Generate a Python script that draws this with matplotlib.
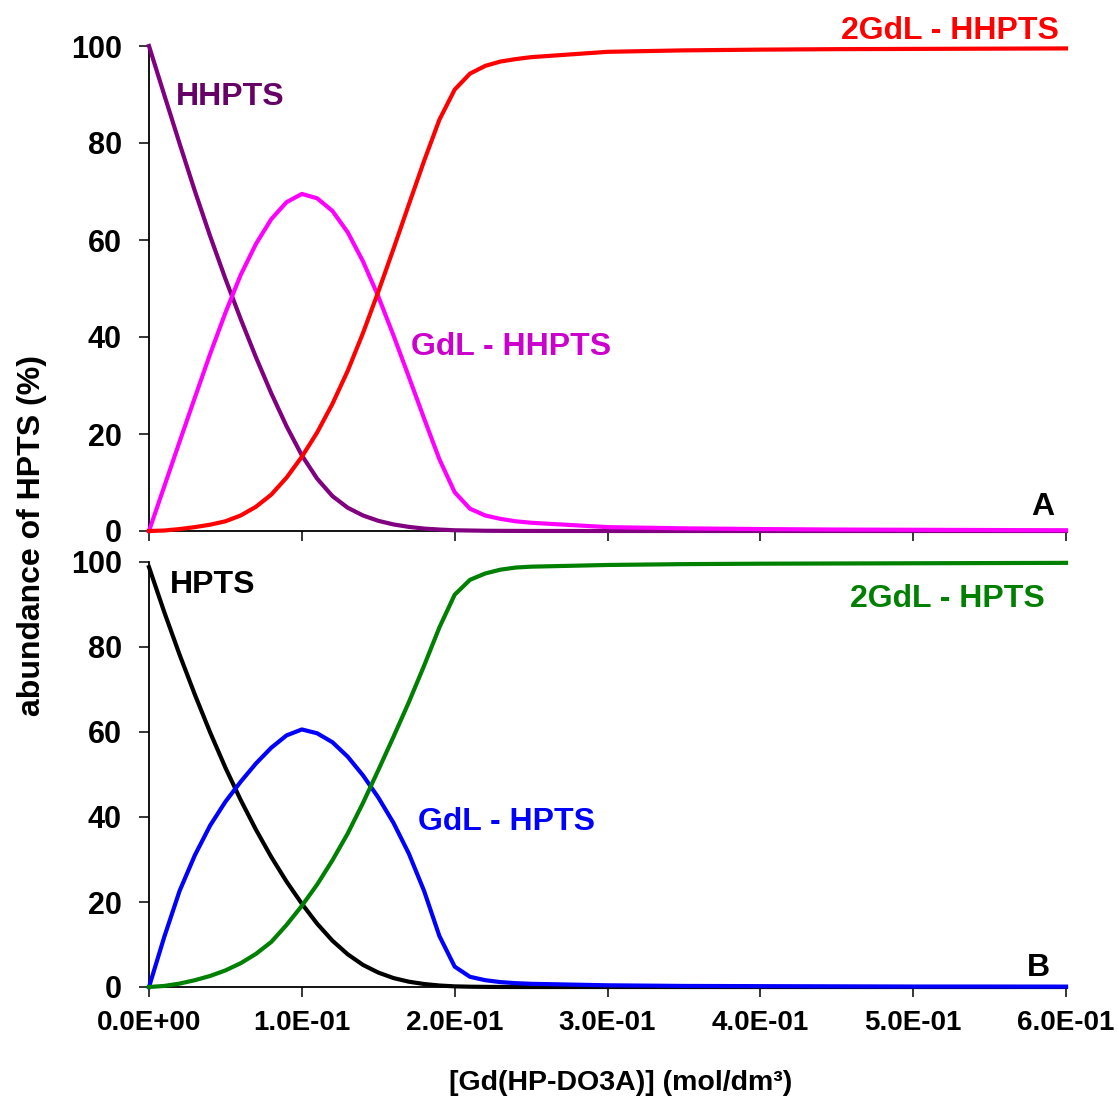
import matplotlib
matplotlib.use("Agg")
import matplotlib.pyplot as plt
from matplotlib.ticker import FixedLocator, FuncFormatter

plt.rcParams['font.family'] = ['Liberation Sans', 'DejaVu Sans']
plt.rcParams['font.weight'] = 'bold'

# concentration of Gd(HP-DO3A) (mol/dm3)
conc = [0.00, 0.01, 0.02, 0.03, 0.04, 0.05, 0.06, 0.07, 0.08, 0.09,
        0.10, 0.11, 0.12, 0.13, 0.14, 0.15, 0.16, 0.17, 0.18, 0.19,
        0.20, 0.21, 0.22, 0.23, 0.24, 0.25, 0.30, 0.35, 0.40, 0.45,
        0.50, 0.55, 0.60]

# Panel A (%)
hhpts = [100, 89.9, 79.9, 70.1, 60.8, 52.0, 43.7, 35.8, 28.4, 21.6,
         15.6, 10.8, 7.2, 4.8, 3.2, 2.1, 1.35, 0.85, 0.5, 0.3,
         0.15, 0.1, 0.05, 0.03, 0.02, 0.01, 0, 0, 0, 0,
         0, 0, 0]
gdl_hhpts = [0, 9.2, 18.4, 27.5, 36.5, 45.0, 52.8, 59.2, 64.3, 67.8,
             69.5, 68.6, 66.0, 61.6, 55.6, 48.4, 40.3, 31.8, 23.2, 14.8,
             8.0, 4.6, 3.2, 2.5, 2.0, 1.7, 0.8, 0.55, 0.4, 0.3,
             0.25, 0.2, 0.15]
gdl2_hhpts = [0, 0.1, 0.4, 0.8, 1.3, 2.0, 3.2, 5.0, 7.5, 11.0,
              15.3, 20.3, 26.2, 33.0, 40.8, 49.3, 58.2, 67.3, 76.3, 84.8,
              91.0, 94.3, 95.9, 96.8, 97.3, 97.7, 98.8, 99.1, 99.25, 99.35,
              99.4, 99.45, 99.5]

# Panel B (%)
hpts = [98.8, 88.2, 78.2, 68.8, 59.9, 51.6, 44.0, 37.0, 30.6, 24.8,
        19.6, 14.9, 10.9, 7.7, 5.2, 3.4, 2.1, 1.25, 0.7, 0.35,
        0.15, 0.07, 0.03, 0.01, 0, 0, 0, 0, 0, 0,
        0, 0, 0]
gdl_hpts = [0, 11.8, 22.6, 31.0, 38.0, 43.6, 48.3, 52.6, 56.3, 59.2,
            60.6, 59.7, 57.6, 54.2, 49.8, 44.6, 38.6, 31.4, 22.6, 12.0,
            4.8, 2.4, 1.6, 1.15, 0.9, 0.75, 0.4, 0.25, 0.2, 0.15,
            0.1, 0.1, 0.08]
gdl2_hpts = [0, 0.25, 0.8, 1.6, 2.6, 3.9, 5.6, 7.8, 10.6, 14.6,
             19.1, 24.1, 29.8, 36.1, 43.3, 51.0, 58.9, 67.0, 75.6, 84.6,
             92.3, 95.8, 97.3, 98.2, 98.7, 98.9, 99.3, 99.5, 99.6, 99.65,
             99.7, 99.75, 99.8]

xticks = [0.0, 0.1, 0.2, 0.3, 0.4, 0.5, 0.6]
yticks = [0, 20, 40, 60, 80, 100]

fig = plt.figure(figsize=(11.18, 11.02), dpi=100)
W, H = 1118, 1102
axA = fig.add_axes([149 / W, 1 - 531 / H, (1066 - 149) / W, (531 - 46) / H])
axB = fig.add_axes([149 / W, 1 - 987 / H, (1066 - 149) / W, (987 - 562) / H])

lw = 3.0
kw = dict(lw=lw, clip_on=False, zorder=3, solid_joinstyle='round')
axA.plot(conc, hhpts, color='#800080', **kw)
axA.plot(conc, gdl_hhpts, color='#FF00FF', **kw)
axA.plot(conc, gdl2_hhpts, color='#FF0000', **kw)

axB.plot(conc, hpts, color='#000000', **kw)
axB.plot(conc, gdl_hpts, color='#0000FF', **kw)
axB.plot(conc, gdl2_hpts, color='#008000', **kw)

for ax in (axA, axB):
    ax.set_xlim(0, 0.6)
    ax.set_ylim(0, 100)
    for s in ('top', 'right'):
        ax.spines[s].set_visible(False)
    for s in ('left', 'bottom'):
        ax.spines[s].set_linewidth(1.3)
    ax.xaxis.set_major_locator(FixedLocator(xticks))
    ax.yaxis.set_major_locator(FixedLocator(yticks))
    ax.tick_params(axis='y', direction='out', length=7.5, width=1.1,
                   labelsize=22, pad=12)
    ax.tick_params(axis='x', direction='out', length=7.5, width=1.1,
                   labelsize=20, pad=9)
    for lab in ax.get_yticklabels():
        lab.set_fontweight('bold')

axA.tick_params(axis='x', labelbottom=False)
axB.xaxis.set_major_formatter(FuncFormatter(lambda v, p: '{:.1E}'.format(v)))
for lab in axB.get_xticklabels():
    lab.set_fontweight('bold')

fs = 23
axA.text(0.0175, 87.9, 'HHPTS', color='#660066', fontsize=fs,
         fontweight='bold', ha='left', va='baseline')
axA.text(0.5952, 101.4, '2GdL - HHPTS', color='#FF0000', fontsize=fs,
         fontweight='bold', ha='right', va='baseline', clip_on=False)
axA.text(0.1712, 36.3, 'GdL - HHPTS', color='#CC00CC', fontsize=fs,
         fontweight='bold', ha='left', va='baseline')
axA.text(0.5849, 3.3, 'A', color='#000000', fontsize=fs,
         fontweight='bold', ha='center', va='baseline')

axB.text(0.0137, 92.7, 'HPTS', color='#000000', fontsize=fs,
         fontweight='bold', ha='left', va='baseline')
axB.text(0.5861, 89.5, '2GdL - HPTS', color='#008000', fontsize=fs,
         fontweight='bold', ha='right', va='baseline')
axB.text(0.1760, 36.9, 'GdL - HPTS', color='#0000FF', fontsize=fs,
         fontweight='bold', ha='left', va='baseline')
axB.text(0.5817, 2.6, 'B', color='#000000', fontsize=fs,
         fontweight='bold', ha='center', va='baseline')

fig.text(32 / W, 1 - 536 / H, 'abundance of HPTS (%)', rotation=90,
         fontsize=23, fontweight='bold', ha='center', va='center')
fig.text(621 / W, 1 - 1083 / H, '[Gd(HP-DO3A)] (mol/dm³)',
         fontsize=20.5, fontweight='bold', ha='center', va='center')

fig.savefig('out.png', dpi=100)
